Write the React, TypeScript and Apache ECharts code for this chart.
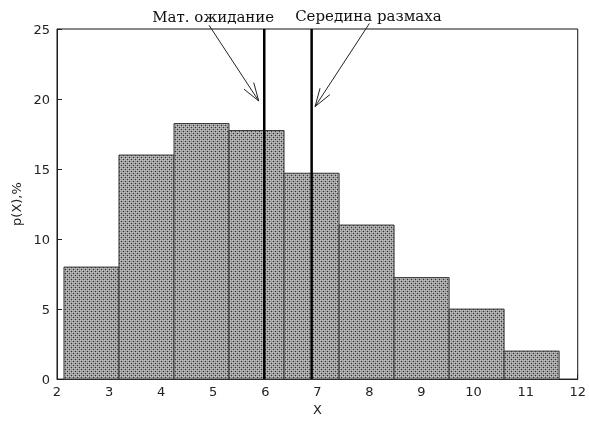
import React, { useEffect, useRef } from "react";
import * as echarts from "echarts";

// Histogram bin edges (X) and heights p(X), %
const binEdges = [2.134, 3.19, 4.247, 5.303, 6.36, 7.417, 8.473, 9.53, 10.586, 11.643];
const binHeights = [8, 16, 18.25, 17.75, 14.7, 11, 7.25, 5, 2];

// Reference lines
const markerNames = ["Мат. ожидание", "Середина размаха"];
const markerX = [5.98, 6.89];

// Arrow annotations: start (x, y) -> tip (x, y), label position
const arrowStart = [[4.92, 25.27], [8.0, 25.4]];
const arrowTip = [[5.874, 19.86], [6.956, 19.46]];
const labelPos = [[5.0, 25.87], [7.98, 25.9]];

const xTicks = { min: 2, max: 12, interval: 1 };
const yTicks = { min: 0, max: 25, interval: 5 };

function makePattern(): HTMLCanvasElement {
  const c = document.createElement("canvas");
  c.width = 4;
  c.height = 4;
  const ctx = c.getContext("2d")!;
  ctx.fillStyle = "#9c9c9c";
  ctx.fillRect(0, 0, 4, 4);
  ctx.fillStyle = "#c2c2c2";
  ctx.fillRect(0, 0, 1, 1);
  ctx.fillRect(2, 0, 1, 1);
  ctx.fillRect(0, 2, 1, 1);
  ctx.fillRect(2, 2, 1, 1);
  ctx.fillStyle = "#303030";
  ctx.fillRect(1, 1, 1, 1);
  ctx.fillRect(3, 3, 1, 1);
  return c;
}

export default function App() {
  const ref = useRef<HTMLDivElement>(null);
  useEffect(() => {
    if (!ref.current) return;
    const chart = echarts.init(ref.current, null, { renderer: "svg" });
    const pattern = makePattern();
    const barData = binHeights.map((h, i) => [binEdges[i], binEdges[i + 1], h]);
    const arrowData = markerNames.map((n, i) => [
      arrowStart[i][0], arrowStart[i][1], arrowTip[i][0], arrowTip[i][1], labelPos[i][0], labelPos[i][1], i,
    ]);
    chart.setOption({
      animation: false,
      grid: { left: 57, right: 8, top: 29, bottom: 38, show: true, borderColor: "#111", borderWidth: 1 },
      xAxis: {
        type: "value",
        min: xTicks.min,
        max: xTicks.max,
        interval: xTicks.interval,
        name: "X",
        nameLocation: "middle",
        nameGap: 22,
        nameTextStyle: { fontFamily: "DejaVu Sans", fontSize: 13, color: "#222" },
        axisLine: { show: true, lineStyle: { color: "#222" } },
        axisTick: { show: true, inside: true, length: 5, lineStyle: { color: "#222" } },
        axisLabel: { fontFamily: "DejaVu Sans", fontSize: 13, color: "#222", margin: 6 },
        splitLine: { show: false },
      },
      yAxis: {
        type: "value",
        min: yTicks.min,
        max: yTicks.max,
        interval: yTicks.interval,
        name: "p(X),%",
        nameLocation: "middle",
        nameGap: 33,
        nameRotate: 90,
        nameTextStyle: { fontFamily: "DejaVu Sans", fontSize: 13, color: "#222" },
        axisLine: { show: true, lineStyle: { color: "#222" } },
        axisTick: { show: true, inside: true, length: 5, lineStyle: { color: "#222" } },
        axisLabel: { fontFamily: "DejaVu Sans", fontSize: 13, color: "#222", margin: 7 },
        splitLine: { show: false },
      },
      series: [
        {
          type: "custom",
          name: "hist",
          data: barData,
          renderItem: (params: any, api: any) => {
            const p0 = api.coord([api.value(0), 0]);
            const p1 = api.coord([api.value(1), api.value(2)]);
            return {
              type: "rect",
              shape: { x: p0[0], y: p1[1], width: p1[0] - p0[0], height: p0[1] - p1[1] },
              style: {
                fill: { image: pattern, repeat: "repeat" },
                stroke: "#3a3a3a",
                lineWidth: 1,
              },
            };
          },
        },
        {
          type: "custom",
          name: "markers",
          data: markerX.map((x) => [x]),
          renderItem: (params: any, api: any) => {
            const a = api.coord([api.value(0), yTicks.min]);
            const b = api.coord([api.value(0), yTicks.max]);
            return {
              type: "line",
              shape: { x1: a[0], y1: a[1], x2: b[0], y2: b[1] },
              style: { stroke: "#000", lineWidth: 2.5 },
            };
          },
        },
        {
          type: "custom",
          name: "arrows",
          data: arrowData,
          clip: false,
          renderItem: (params: any, api: any) => {
            const s = api.coord([api.value(0), api.value(1)]);
            const t = api.coord([api.value(2), api.value(3)]);
            const lp = api.coord([api.value(4), api.value(5)]);
            const idx = api.value(6);
            const ang = Math.atan2(s[1] - t[1], s[0] - t[0]);
            const L = 19;
            const da = (18 * Math.PI) / 180;
            const b1 = [t[0] + L * Math.cos(ang + da), t[1] + L * Math.sin(ang + da)];
            const b2 = [t[0] + L * Math.cos(ang - da), t[1] + L * Math.sin(ang - da)];
            return {
              type: "group",
              children: [
                { type: "line", shape: { x1: s[0], y1: s[1], x2: t[0], y2: t[1] }, style: { stroke: "#222", lineWidth: 1 } },
                { type: "polyline", shape: { points: [b1, t, b2] }, style: { stroke: "#222", lineWidth: 1, fill: "none" } },
                {
                  type: "text",
                  x: lp[0],
                  y: lp[1],
                  style: {
                    text: markerNames[idx],
                    align: "center",
                    verticalAlign: "middle",
                    fontFamily: "DejaVu Serif",
                    fontSize: 15,
                    fill: "#111",
                  },
                },
              ],
            };
          },
        },
      ],
    });
    return () => chart.dispose();
  }, []);
  return <div ref={ref} style={{ position: "fixed", left: 0, top: 0, width: 589, height: 421 }} />;
}
